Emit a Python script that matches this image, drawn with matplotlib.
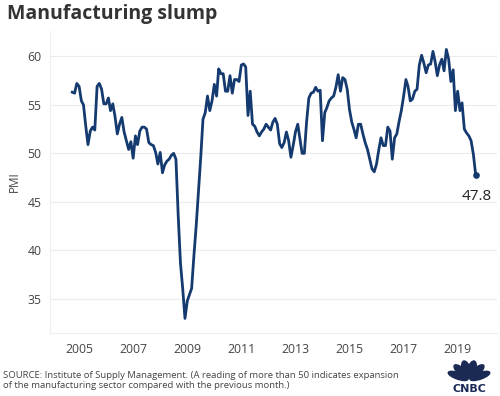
import matplotlib
matplotlib.use("Agg")
import matplotlib.pyplot as plt
from matplotlib.patches import Ellipse
import pandas as pd
import math

plt.rcParams['font.family'] = ['Open Sans', 'DejaVu Sans']

# ISM manufacturing PMI, monthly, Oct 2004 - Sep 2019
pmi_2004 = [56.3, 56.2, 57.2]  # Oct-Dec
pmi_2005 = [56.9, 55.4, 55.0, 52.8, 50.9, 52.3, 52.7, 52.4, 56.9, 57.2, 56.6, 55.1]
pmi_2006 = [55.1, 55.7, 54.4, 55.1, 53.8, 52.0, 53.0, 53.7, 52.2, 51.3, 50.4, 51.2]
pmi_2007 = [49.5, 51.8, 50.9, 52.3, 52.7, 52.7, 52.5, 51.1, 50.9, 50.8, 50.1, 48.9]
pmi_2008 = [50.1, 48.0, 48.8, 49.2, 49.4, 49.8, 50.0, 49.4, 43.5, 38.7, 36.0, 33.0]
pmi_2009 = [34.8, 35.5, 36.1, 39.5, 42.5, 46.0, 49.5, 53.5, 54.2, 55.9, 54.4, 55.4]
pmi_2010 = [57.1, 55.9, 58.7, 58.2, 58.2, 56.4, 56.4, 58.0, 56.2, 57.6, 57.6, 57.4]
pmi_2011 = [59.1, 59.2, 58.9, 53.9, 56.4, 53.0, 52.8, 52.2, 51.8, 52.2, 52.5, 53.0]
pmi_2012 = [52.7, 52.4, 53.2, 53.6, 53.0, 51.0, 50.6, 51.1, 52.2, 51.3, 49.6, 50.8]
pmi_2013 = [52.2, 53.0, 51.6, 50.0, 50.0, 53.3, 55.7, 56.2, 56.3, 56.8, 56.4, 56.5]
pmi_2014 = [51.3, 54.2, 54.7, 55.4, 55.7, 55.9, 56.8, 58.1, 56.4, 57.8, 57.6, 56.6]
pmi_2015 = [54.5, 53.2, 52.5, 51.6, 53.0, 53.0, 52.0, 51.1, 50.4, 49.4, 48.4, 48.1]
pmi_2016 = [48.9, 50.4, 51.6, 50.8, 50.8, 52.7, 52.3, 49.4, 51.6, 52.0, 53.3, 54.4]
pmi_2017 = [55.9, 57.6, 56.9, 55.4, 55.6, 56.4, 56.6, 59.1, 60.1, 59.3, 58.3, 59.1]
pmi_2018 = [59.2, 60.5, 59.5, 58.0, 59.1, 59.7, 58.5, 60.7, 59.7, 57.4, 58.6, 54.4]
pmi_2019 = [56.4, 54.4, 55.2, 52.5, 52.1, 51.8, 51.3, 49.9, 47.8]  # Jan-Sep

pmi = (pmi_2004 + pmi_2005 + pmi_2006 + pmi_2007 + pmi_2008 + pmi_2009 +
       pmi_2010 + pmi_2011 + pmi_2012 + pmi_2013 + pmi_2014 + pmi_2015 +
       pmi_2016 + pmi_2017 + pmi_2018 + pmi_2019)
dates = pd.date_range("2004-10-01", periods=len(pmi), freq="MS")

x_tick_years = [2005, 2007, 2009, 2011, 2013, 2015, 2017, 2019]
y_ticks = [35, 40, 45, 50, 55, 60]
last_label = "47.8"

title = "Manufacturing slump"
source_1 = "SOURCE: Institute of Supply Management. (A reading of more than 50 indicates expansion"
source_2 = "of the manufacturing sector compared with the previous month.)"

W, H = 500, 396
fig = plt.figure(figsize=(W / 100, H / 100), dpi=100)
fig.patch.set_facecolor("white")

L, R, T, B = 50, 497, 31, 333
ax = fig.add_axes([L / W, 1 - B / H, (R - L) / W, (B - T) / H])

line_color = "#143a6f"
ax.plot(dates, pmi, color=line_color, lw=2.0, solid_joinstyle="round", zorder=3)
ax.plot(dates[-1:], pmi[-1:], "o", color=line_color, ms=3.8, zorder=4)
ax.annotate(last_label, (dates[-1], pmi[-1]), xytext=(1, -10), textcoords="offset points",
            ha="center", va="top", fontsize=11, color="#222222")

ax.set_ylim(31.5, 62.6)
ax.set_xlim(pd.Timestamp("2003-12-05"), pd.Timestamp("2020-06-15"))
ax.set_yticks(y_ticks)
ax.set_xticks([pd.Timestamp(f"{y}-01-01") for y in x_tick_years])
ax.set_xticklabels([str(y) for y in x_tick_years])
ax.tick_params(axis="both", length=0, labelsize=8.8, labelcolor="#444444")
ax.tick_params(axis="x", pad=7)
ax.tick_params(axis="y", pad=6)
ax.grid(axis="y", color="#ececec", lw=0.8)
ax.set_axisbelow(True)
for s in ["top", "right"]:
    ax.spines[s].set_visible(False)
for s in ["left", "bottom"]:
    ax.spines[s].set_color("#eeeeee")
    ax.spines[s].set_linewidth(0.8)
ax.set_ylabel("PMI", fontsize=8.5, color="#444444", labelpad=5)

fig.text(7 / W, 1 - 14 / H, title, fontsize=14, fontweight="bold", color="#333333",
         ha="left", va="center")
fig.text(3 / W, 1 - 375.5 / H, source_1, fontsize=6.8, color="#444444", ha="left", va="center")
fig.text(3 / W, 1 - 385.5 / H, source_2, fontsize=6.8, color="#444444", ha="left", va="center")

# CNBC logo approximation
logo_color = "#1b2a55"
fig.text(469 / W, 1 - 389 / H, "CNBC", fontsize=8, fontweight="heavy", color=logo_color,
         ha="center", va="center", family="DejaVu Sans")
cx, cy = 469, 381
for ang in [-65, -39, -13, 13, 39, 65]:
    r = 12
    ex = cx + r * math.sin(math.radians(ang))
    ey = cy - r * math.cos(math.radians(ang))
    e = Ellipse((ex / W, 1 - ey / H), 8 / W, 17 / H, angle=-ang, transform=fig.transFigure,
                color=logo_color)
    fig.patches.append(e)

fig.savefig("out.png", dpi=100, facecolor="white")
